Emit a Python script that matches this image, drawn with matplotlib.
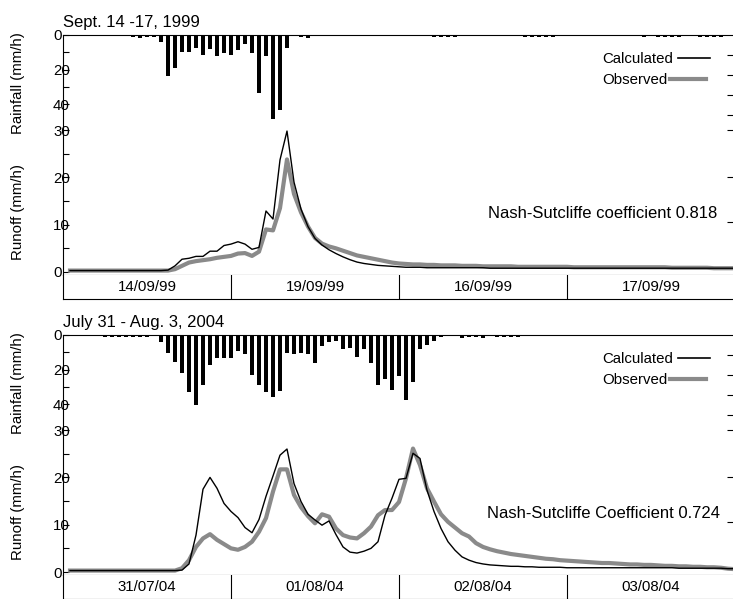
import matplotlib
matplotlib.use("Agg")
import matplotlib.pyplot as plt
import numpy as np
from matplotlib.lines import Line2D

plt.rcParams['font.family'] = ['Liberation Sans', 'DejaVu Sans']

# ---------------- DATA ----------------
hours = np.arange(1, 97)  # hourly steps over 4 days

top_title = "Sept. 14 -17, 1999"
top_dates = ["14/09/99", "19/09/99", "16/09/99", "17/09/99"]
top_ns = "Nash-Sutcliffe coefficient 0.818"
top_rain = [0, 0, 0, 0, 0, 0, 0, 0, 0, 1.0, 2.0, 1.0,
            1.0, 4.3, 24.0, 19.3, 9.7, 9.7, 7.5, 11.6, 8.1, 12.4, 10.4, 11.4,
            8.5, 5.2, 10.4, 33.4, 12.0, 48.7, 43.3, 7.5, 0, 1.0, 1.5, 0,
            0, 0, 0, 0, 0, 0, 0, 0, 0, 0, 0, 0,
            0, 0, 0, 0, 1.0, 1.0, 1.2, 1.0, 0, 0, 0, 0,
            0, 0, 0, 0, 0, 1.2, 1.2, 1.2, 1.2, 1.0, 0, 0,
            0, 0, 0, 0, 0, 0, 0, 0, 0, 0, 1.0, 0,
            1.0, 1.0, 1.0, 1.0, 0, 0, 1.2, 1.2, 1.2, 1.2, 0, 0]
top_calc = [0.3] * 12 + \
           [0.3, 0.3, 0.4, 1.3, 2.7, 2.9, 3.3, 3.3, 4.4, 4.4, 5.6, 5.9,
            6.4, 5.9, 4.8, 5.2, 12.9, 11.2, 23.7, 29.8, 19.0, 13.3, 9.6, 7.1,
            5.7, 4.7, 3.9, 3.2, 2.6, 2.1, 1.8, 1.6, 1.4, 1.3, 1.2, 1.1,
            1.0, 1.0, 1.0, 0.9, 0.9, 0.9, 0.9, 0.9, 0.9, 0.9, 0.9, 0.9] + \
           [0.8] * 36
top_obs = [0.3] * 12 + \
          [0.3, 0.3, 0.3, 0.6, 1.3, 2.0, 2.3, 2.5, 2.7, 3.0, 3.2, 3.4,
           3.9, 4.0, 3.4, 4.3, 9.0, 8.8, 13.5, 23.8, 16.5, 12.6, 9.6, 7.2,
           6.0, 5.4, 5.0, 4.5, 4.0, 3.5, 3.2, 2.9, 2.6, 2.3, 2.0, 1.8,
           1.7, 1.6, 1.6, 1.5, 1.5, 1.4, 1.4, 1.4, 1.3, 1.3, 1.3, 1.2,
           1.2, 1.2, 1.2, 1.2, 1.1, 1.1, 1.1, 1.1, 1.1, 1.1, 1.1, 1.1] + \
          [1.0] * 12 + \
          [1.0, 1.0, 0.9, 0.9, 0.9, 0.9, 0.9, 0.9, 0.8, 0.8, 0.8, 0.8]

bot_title = "July 31 - Aug. 3, 2004"
bot_dates = ["31/07/04", "01/08/04", "02/08/04", "03/08/04"]
bot_ns = "Nash-Sutcliffe Coefficient 0.724"
bot_rain = [0, 0, 0, 0, 0, 1.0, 1.0, 1.0, 1.0, 1.0, 1.0, 1.0,
            0, 4.3, 10.2, 15.5, 21.8, 33.2, 40.6, 29.0, 17.6, 13.1, 13.5, 13.1,
            9.3, 11.0, 23.2, 29.0, 32.9, 35.7, 32.3, 10.6, 11.0, 10.6, 11.0, 16.4,
            6.2, 4.1, 3.3, 8.3, 7.7, 12.6, 8.3, 16.0, 29.0, 25.7, 31.9, 23.8,
            37.7, 27.0, 8.3, 5.8, 3.3, 1.4, 0, 0, 1.5, 1.2, 1.2, 1.5,
            0, 1.2, 1.2, 1.0, 1.2, 0, 0, 0, 0, 0, 0, 0] + [0] * 24
bot_calc = [0.3] * 12 + \
           [0.3, 0.3, 0.3, 0.3, 0.4, 1.7, 7.8, 17.5, 20.0, 17.7, 14.5, 12.8,
            11.5, 9.4, 8.3, 11.1, 16.0, 20.3, 24.7, 26.0, 18.7, 14.9, 12.2, 11.0,
            9.9, 10.8, 7.9, 5.3, 4.2, 4.0, 4.4, 5.0, 6.4, 12.0, 15.6, 19.6,
            19.8, 25.1, 24.0, 17.3, 12.8, 9.2, 6.4, 4.6, 3.2, 2.5, 2.0, 1.7,
            1.5, 1.4, 1.3, 1.2, 1.2, 1.1, 1.1, 1.0, 1.0, 1.0, 1.0, 0.9] + \
           [0.9] * 12 + \
           [0.9, 0.9, 0.9, 0.8, 0.8, 0.8, 0.8, 0.8, 0.8, 0.8, 0.7, 0.7]
bot_obs = [0.3] * 12 + \
          [0.3, 0.3, 0.3, 0.3, 0.8, 2.5, 5.3, 7.1, 8.0, 6.8, 5.9, 5.0,
           4.7, 5.3, 6.4, 8.5, 11.4, 17.0, 21.7, 21.7, 16.3, 13.7, 11.8, 10.3,
           12.2, 11.7, 9.2, 7.8, 7.3, 7.1, 8.2, 9.6, 12.0, 13.1, 13.1, 14.8,
           19.8, 26.1, 22.6, 17.7, 14.9, 12.2, 10.6, 9.4, 8.2, 7.5, 6.1, 5.3,
           4.8, 4.4, 4.1, 3.8, 3.6, 3.4, 3.2, 3.0, 2.8, 2.7, 2.5, 2.4,
           2.3, 2.2, 2.1, 2.0, 1.9, 1.9, 1.8, 1.7, 1.6, 1.6, 1.5, 1.5,
           1.4, 1.3, 1.3, 1.2, 1.2, 1.1, 1.1, 1.0, 1.0, 0.9, 0.7, 0.6]

rain_ticks_major = [0, 20, 40]
rain_ticks_minor = [10, 30]
runoff_ticks_major = [0, 10, 20, 30]
runoff_ticks_minor = [5, 15, 25]

# ---------------- LAYOUT ----------------
W, H = 733, 599
fig = plt.figure(figsize=(W / 100, H / 100), dpi=100)
FS = 10.8
BIG = 12.0
GRAY = "#8a8a8a"
X0, X1 = 63, 733
PX_PER_H = 7.0


def fx(px):
    return px / W


def fy(py):
    return 1 - py / H


def panel(off, title, dates, ns, rain, calc, obs, ns_right):
    top, bot = 35 + off, 275 + off
    ax = fig.add_axes([fx(X0), fy(bot), (X1 - X0) / W, (bot - top) / H])
    xlim = (0, (X1 - X0) / PX_PER_H)
    ax.set_xlim(*xlim)
    # runoff: 0 at 3px above bottom, 4.73 px per unit
    ax.set_ylim(-3 / 4.73, (bot - top - 3) / 4.73)
    ax.plot(hours, obs, color=GRAY, lw=3.0, solid_joinstyle='round', zorder=2)
    ax.plot(hours, calc, color='black', lw=1.0, zorder=3)
    ax.set_xticks([])
    ax.spines['right'].set_visible(False)
    ax.spines['top'].set_visible(False)
    for s in ('left', 'bottom'):
        ax.spines[s].set_linewidth(0.8)
    ax.set_yticks(runoff_ticks_major)
    ax.set_yticks(runoff_ticks_minor, minor=True)
    ax.tick_params(axis='y', which='both', direction='in', length=4,
                   width=0.8, pad=7.2, labelsize=FS)
    for lab in ax.get_yticklabels():
        lab.set_ha('left')

    # rainfall (inverted) on twin axis
    ar = ax.twinx()
    ar.set_xlim(*xlim)
    ar.set_ylim((bot - top) / 1.725, 0)
    ar.bar(hours, rain, width=0.7, color='black', zorder=2)
    ar.yaxis.tick_left()
    ar.set_yticks(rain_ticks_major)
    ar.set_yticks(rain_ticks_minor, minor=True)
    ar.tick_params(axis='y', which='both', direction='in', length=4,
                   width=0.8, pad=7.2, labelsize=FS)
    for lab in ar.get_yticklabels():
        lab.set_ha('left')
    for s in ('right', 'bottom', 'left'):
        ar.spines[s].set_visible(False)
    ar.spines['top'].set_linewidth(0.8)

    # stray right-hand ticks (pixel positions within panel)
    at = ax.twinx()
    at.set_ylim(bot - off, top - off)
    at.set_yticks([55, 75, 95, 115, 130, 177, 222])
    at.set_yticklabels([])
    at.tick_params(axis='y', direction='in', length=4, width=0.8)
    for s in at.spines.values():
        s.set_visible(False)

    # date box
    ad = fig.add_axes([fx(X0), fy(299 + off), (X1 - X0) / W, 24 / H])
    ad.set_xlim(*xlim)
    ad.set_ylim(0, 1)
    ad.set_xticks([])
    ad.set_yticks([])
    ad.spines['top'].set_visible(False)
    ad.spines['right'].set_visible(False)
    for s in ('left', 'bottom'):
        ad.spines[s].set_linewidth(0.8)
    for i, d in enumerate(dates):
        ad.text(i * 24 + 12, 0.5, d, ha='center', va='center', fontsize=FS)
        if i > 0:
            ad.axvline(i * 24, color='black', lw=0.8)

    # texts
    fig.text(fx(63), fy(22 + off), title, ha='left', va='center', fontsize=BIG)
    fig.text(fx(18), fy(83 + off), "Rainfall (mm/h)", rotation=90,
             ha='center', va='center', fontsize=FS)
    fig.text(fx(18), fy(212 + off), "Runoff (mm/h)", rotation=90,
             ha='center', va='center', fontsize=FS)
    fig.text(fx(ns_right), fy(213 + off), ns, ha='right', va='center',
             fontsize=BIG)
    # legend
    fig.text(fx(602), fy(59 + off), "Calculated", ha='left', va='center',
             fontsize=FS)
    fig.add_artist(Line2D([fx(678), fx(710)], [fy(58 + off)] * 2,
                          color='black', lw=1.2, transform=fig.transFigure))
    fig.text(fx(602), fy(80 + off), "Observed", ha='left', va='center',
             fontsize=FS)
    fig.add_artist(Line2D([fx(670), fx(706)], [fy(79 + off)] * 2,
                          color=GRAY, lw=3.0, transform=fig.transFigure))


panel(0, top_title, top_dates, top_ns, top_rain, top_calc, top_obs, 717)
panel(300, bot_title, bot_dates, bot_ns, bot_rain, bot_calc, bot_obs, 720)

fig.savefig("out.png", dpi=100)
